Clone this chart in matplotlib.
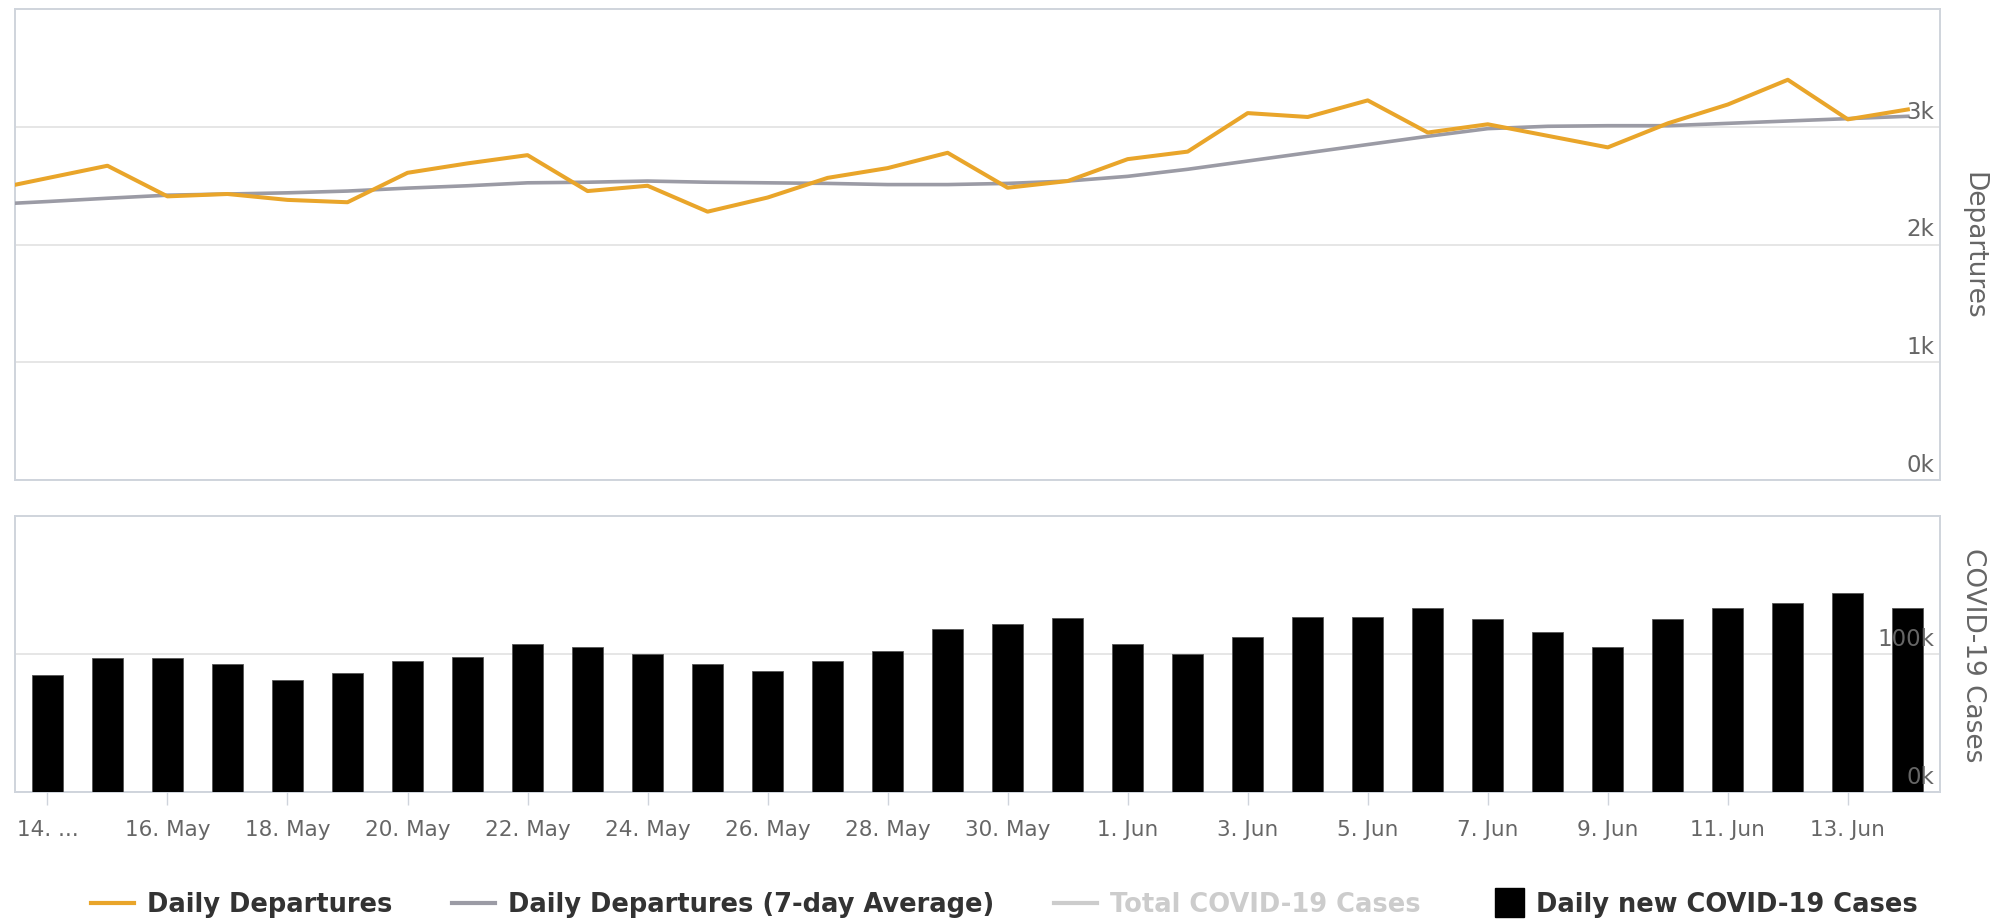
import matplotlib
matplotlib.use("Agg")
import matplotlib.pyplot as plt
from matplotlib.lines import Line2D
from matplotlib.patches import Rectangle
from matplotlib.legend_handler import HandlerPatch
import matplotlib.transforms as mtransforms
import numpy as np

# ---------------- data ----------------
# Days shown on the category axis (14 May .. 14 Jun)
days = ["14 May", "15 May", "16 May", "17 May", "18 May", "19 May", "20 May", "21 May",
        "22 May", "23 May", "24 May", "25 May", "26 May", "27 May", "28 May", "29 May",
        "30 May", "31 May", "1 Jun", "2 Jun", "3 Jun", "4 Jun", "5 Jun", "6 Jun",
        "7 Jun", "8 Jun", "9 Jun", "10 Jun", "11 Jun", "12 Jun", "13 Jun", "14 Jun"]

# Departure series start one day earlier (13 May), partly clipped at the left edge
dep_days = ["13 May"] + days
daily_departures = [2460, 2565, 2670, 2410, 2430, 2380, 2360, 2610, 2690, 2760, 2455,
                    2500, 2280, 2400, 2567, 2650, 2780, 2483, 2540, 2726, 2790, 3117,
                    3084, 3225, 2952, 3022, 2924, 2826, 3030, 3190, 3400, 3064, 3148]
departures_7day = [2340, 2366, 2394, 2420, 2430, 2440, 2455, 2480, 2500, 2525, 2530,
                   2540, 2530, 2525, 2520, 2510, 2510, 2520, 2540, 2580, 2640, 2710,
                   2780, 2850, 2920, 2985, 3005, 3010, 3010, 3030, 3050, 3070, 3090]

daily_new_cases = [85000, 97000, 97000, 93000, 81000, 86000, 95000, 98000, 107000,
                   105000, 100000, 93000, 88000, 95000, 102000, 118000, 122000, 126000,
                   107000, 100000, 112000, 127000, 127000, 133000, 125000, 116000,
                   105000, 125000, 133000, 137000, 144000, 133000]

xtick_labels = ["14. ...", "16. May", "18. May", "20. May", "22. May", "24. May",
                "26. May", "28. May", "30. May", "1. Jun", "3. Jun", "5. Jun",
                "7. Jun", "9. Jun", "11. Jun", "13. Jun"]
top_ticks = [0, 1000, 2000, 3000]
top_tick_labels = ["0k", "1k", "2k", "3k"]
bot_ticks = [0, 100000]
bot_tick_labels = ["0k", "100k"]

legend_labels = ["Daily Departures", "Daily Departures (7-day Average)",
                 "Total COVID-19 Cases", "Daily new COVID-19 Cases"]

# ---------------- style ----------------
ORANGE = "#e9a52a"
GRAY = "#9b9ba5"
LIGHT = "#cccccc"
TXT = "#666666"
GRID = "#e6e6e6"
FRAME = "#cfd4dc"

plt.rcParams["font.family"] = ["DejaVu Sans"]

fig = plt.figure(figsize=(20.05, 9.2), dpi=100)
left, width = 0.0077, 0.9598
ax_top = fig.add_axes([left, 0.477, width, 0.512])
ax_bot = fig.add_axes([left, 0.1377, width, 0.3006], sharex=ax_top)

x_bar = np.arange(len(days))
x_dep = np.arange(len(dep_days)) - 1
xlim = (-0.533, len(days) - 1 + 0.533)

# top panel: departures
ax_top.plot(x_dep, departures_7day, color=GRAY, lw=2.6, zorder=3, solid_joinstyle="round")
ax_top.plot(x_dep, daily_departures, color=ORANGE, lw=2.9, zorder=4, solid_joinstyle="round")
ax_top.set_ylim(0, 4000)
ax_top.set_xlim(*xlim)

# bottom panel: daily cases
ax_bot.bar(x_bar, daily_new_cases, width=0.52, color="black", edgecolor="#555555",
           linewidth=0.6, zorder=3)
ax_bot.set_ylim(0, 200000)

for ax, ticks, labels in ((ax_top, top_ticks, top_tick_labels),
                          (ax_bot, bot_ticks, bot_tick_labels)):
    ax.set_yticks(ticks)
    ax.tick_params(axis="y", left=False, right=False, labelleft=False, labelright=False)
    trans = mtransforms.blended_transform_factory(ax.transAxes, ax.transData)
    off = mtransforms.ScaledTranslation(-4 / 72, 3 / 72, fig.dpi_scale_trans)
    for v, lab in zip(ticks, labels):
        ax.text(1.0, v, lab, transform=trans + off, ha="right", va="bottom",
                fontsize=16.5, color=TXT, zorder=10)
    ax.grid(axis="y", color=GRID, lw=1.4, zorder=0)
    ax.set_axisbelow(True)
    for sp in ax.spines.values():
        sp.set_color(FRAME)
        sp.set_linewidth(1.4)

ax_top.tick_params(axis="x", which="both", bottom=False, labelbottom=False)
ax_bot.set_xticks(x_bar[::2])
ax_bot.set_xticklabels(xtick_labels)
ax_bot.tick_params(axis="x", length=9, width=1, color=FRAME, pad=10,
                   labelsize=15.5, labelcolor=TXT)

# right-side axis titles
fig.text(0.984, 0.477 + 0.512 / 2, "Departures", rotation=270, ha="center",
         va="center", fontsize=19, color=TXT)
fig.text(0.984, 0.1377 + 0.3006 / 2, "COVID-19 Cases", rotation=270, ha="center",
         va="center", fontsize=19, color=TXT)


# legend
def square_right(legend, orig_handle, xdescent, ydescent, width, height, fontsize):
    s = 1.12 * fontsize
    return Rectangle((-xdescent + width - s, -ydescent + (height - s) / 2), s, s)


sq = Rectangle((0, 0), 1, 1, facecolor="black", edgecolor="black")
handles = [Line2D([], [], color=ORANGE, lw=3),
           Line2D([], [], color=GRAY, lw=3),
           Line2D([], [], color=LIGHT, lw=3),
           sq]
leg = fig.legend(handles, legend_labels, loc="lower center", bbox_to_anchor=(0.501, -0.0235),
                 ncol=4, frameon=False, handlelength=1.7, handletextpad=0.5,
                 columnspacing=2.3, prop={"size": 18.5, "weight": "bold"},
                 handler_map={sq: HandlerPatch(patch_func=square_right)})
for t, c in zip(leg.get_texts(), ["#333333", "#333333", LIGHT, "#333333"]):
    t.set_color(c)

fig.savefig("out.png", dpi=100, facecolor="white")
